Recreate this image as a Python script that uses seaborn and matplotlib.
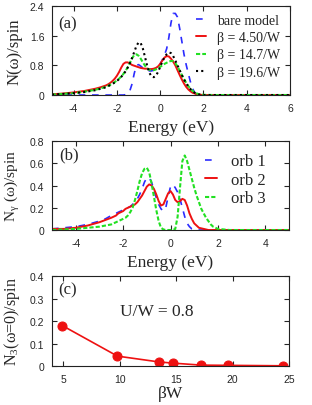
import numpy as np
import matplotlib
matplotlib.use("Agg")
import matplotlib.pyplot as plt
import seaborn as sns

# energy grid shared by panels (a) and (b)
energy = [-5.0, -4.5, -4.0, -3.5, -3.0, -2.75,
          -2.5, -2.4, -2.3, -2.2, -2.1, -2.0, -1.9, -1.8, -1.7, -1.6,
          -1.5, -1.4, -1.3, -1.2, -1.1, -1.0, -0.9, -0.8, -0.7, -0.6,
          -0.5, -0.4, -0.3, -0.2, -0.1, 0.0, 0.1, 0.2, 0.3, 0.4,
          0.5, 0.6, 0.7, 0.8, 0.9, 1.0, 1.1, 1.2, 1.3, 1.4,
          1.5, 1.6, 1.7, 1.8, 1.9, 2.0,
          2.5, 3.0, 4.0, 5.0, 6.0]

# panel (a): total DOS
dos_bare = [0, 0, 0, 0, 0, 0,
            0, 0, 0, 0, 0, 0, 0, 0, 0, 0.01,
            0.04, 0.12, 0.30, 0.58, 0.80, 0.82, 0.78, 0.73, 0.69, 0.66,
            0.65, 0.65, 0.67, 0.70, 0.76, 0.84, 0.95, 1.08, 1.25, 1.55,
            1.95, 2.20, 2.20, 2.10, 1.80, 1.45, 1.10, 0.82, 0.58, 0.35,
            0.17, 0.06, 0.01, 0, 0, 0,
            0, 0, 0, 0, 0]
dos_b450 = [0.02, 0.04, 0.07, 0.11, 0.17, 0.21,
            0.26, 0.29, 0.33, 0.38, 0.44, 0.52, 0.62, 0.74, 0.84, 0.88,
            0.88, 0.85, 0.81, 0.79, 0.77, 0.75, 0.73, 0.72, 0.71, 0.71,
            0.70, 0.70, 0.71, 0.73, 0.77, 0.84, 0.93, 1.01, 1.05, 1.04,
            0.98, 0.90, 0.80, 0.67, 0.54, 0.42, 0.31, 0.22, 0.15, 0.10,
            0.06, 0.04, 0.02, 0.01, 0.005, 0,
            0, 0, 0, 0, 0]
dos_b147 = [0.01, 0.03, 0.05, 0.09, 0.14, 0.18,
            0.22, 0.25, 0.28, 0.31, 0.35, 0.39, 0.44, 0.50, 0.57, 0.65,
            0.75, 0.87, 0.99, 1.08, 1.10, 1.06, 0.98, 0.88, 0.79, 0.72,
            0.68, 0.67, 0.67, 0.69, 0.72, 0.76, 0.80, 0.84, 0.87, 0.90,
            0.92, 0.91, 0.86, 0.77, 0.66, 0.54, 0.43, 0.33, 0.24, 0.17,
            0.11, 0.07, 0.04, 0.02, 0.01, 0.005,
            0, 0, 0, 0, 0]
dos_b196 = [0.01, 0.03, 0.05, 0.08, 0.13, 0.17,
            0.21, 0.24, 0.27, 0.30, 0.34, 0.38, 0.43, 0.49, 0.56, 0.64,
            0.74, 0.86, 1.00, 1.16, 1.32, 1.42, 1.40, 1.25, 1.02, 0.78,
            0.60, 0.50, 0.48, 0.52, 0.62, 0.76, 0.90, 1.02, 1.10, 1.15,
            1.13, 1.05, 0.93, 0.80, 0.67, 0.54, 0.42, 0.32, 0.23, 0.16,
            0.10, 0.06, 0.03, 0.015, 0.005, 0,
            0, 0, 0, 0, 0]

# panel (b): orbital-resolved DOS
orb1 = [0.01, 0.02, 0.03, 0.05, 0.08, 0.10,
        0.13, 0.14, 0.15, 0.16, 0.17, 0.18, 0.19, 0.20, 0.21, 0.23,
        0.25, 0.28, 0.32, 0.37, 0.43, 0.47, 0.47, 0.43, 0.36, 0.29,
        0.23, 0.19, 0.17, 0.20, 0.30, 0.39, 0.41, 0.38, 0.34, 0.28,
        0.20, 0.12, 0.06, 0.03, 0.01, 0.005, 0, 0, 0, 0,
        0, 0, 0, 0, 0, 0,
        0, 0, 0, 0, 0]
orb2 = [0.01, 0.01, 0.02, 0.04, 0.07, 0.09,
        0.11, 0.12, 0.13, 0.15, 0.16, 0.17, 0.19, 0.20, 0.21, 0.22,
        0.23, 0.25, 0.28, 0.31, 0.35, 0.39, 0.41, 0.40, 0.37, 0.32,
        0.26, 0.22, 0.23, 0.28, 0.33, 0.35, 0.32, 0.27, 0.25, 0.26,
        0.28, 0.27, 0.22, 0.15, 0.10, 0.06, 0.04, 0.02, 0.015, 0.01,
        0.005, 0, 0, 0, 0, 0,
        0, 0, 0, 0, 0]
orb3 = [0.0, 0.005, 0.01, 0.02, 0.03, 0.04,
        0.05, 0.06, 0.07, 0.08, 0.09, 0.10, 0.11, 0.13, 0.16, 0.20,
        0.27, 0.35, 0.44, 0.51, 0.55, 0.56, 0.52, 0.42, 0.30, 0.18,
        0.08, 0.02, 0.005, 0, 0, 0, 0, 0.01, 0.12, 0.38,
        0.62, 0.67, 0.62, 0.54, 0.46, 0.38, 0.31, 0.25, 0.19, 0.15,
        0.11, 0.08, 0.05, 0.03, 0.02, 0.01,
        0, 0, 0, 0, 0]

# panel (c)
beta_w = [4.9, 9.8, 13.5, 14.7, 17.2, 19.6, 24.5]
n3_zero = [0.18, 0.044, 0.018, 0.013, 0.004, 0.003, 0.001]

sns.set_style("ticks")
plt.rcParams["font.family"] = ["Liberation Serif", "DejaVu Serif"]
plt.rcParams["mathtext.default"] = "regular"
plt.rcParams["axes.unicode_minus"] = False

BLUE = "#2b2bff"
RED = "#ee1111"
GREEN = "#22e022"
tick_font = {"family": "Liberation Sans", "size": 7.5}

fig = plt.figure(figsize=(3.12, 4.06), dpi=100)
ax_a = fig.add_axes([0.1667, 0.7635, 0.7628, 0.2192])
ax_b = fig.add_axes([0.1667, 0.4310, 0.7596, 0.2192])
ax_c = fig.add_axes([0.1667, 0.0960, 0.7596, 0.2217])

# (a)
sns.lineplot(x=energy, y=dos_bare, ax=ax_a, color=BLUE, lw=1.2,
             linestyle=(0, (4, 4)), label="bare model")
sns.lineplot(x=energy, y=dos_b450, ax=ax_a, color=RED, lw=1.4,
             label="β = 4.50/W")
sns.lineplot(x=energy, y=dos_b147, ax=ax_a, color=GREEN, lw=1.5,
             linestyle=(0, (2, 1)), label="β = 14.7/W")
sns.lineplot(x=energy, y=dos_b196, ax=ax_a, color="black", lw=1.5,
             linestyle=(0, (1, 1.5)), label="β = 19.6/W")
ax_a.set_xlim(-5, 6)
ax_a.set_ylim(0, 2.4)
ax_a.set_xticks([-4, -2, 0, 2, 4, 6])
ax_a.set_yticks([0, 0.8, 1.6, 2.4])
ax_a.set_yticklabels(["0", "0.8", "1.6", "2.4"])
ax_a.set_xlabel("Energy (eV)", fontsize=12.5)
ax_a.set_ylabel("N(ω)/spin", fontsize=12)
ax_a.text(0.025, 0.81, "(a)", transform=ax_a.transAxes, fontsize=12,
          va="center")
ax_a.legend(loc="upper right", bbox_to_anchor=(0.96, 0.91), frameon=False,
            fontsize=10, handlelength=0.75, handletextpad=0.8,
            labelspacing=0.3, borderpad=0, borderaxespad=0)

# (b)
sns.lineplot(x=energy, y=orb1, ax=ax_b, color=BLUE, lw=1.2,
             linestyle=(0, (4, 4)), label="orb 1")
sns.lineplot(x=energy, y=orb2, ax=ax_b, color=RED, lw=1.4, label="orb 2")
sns.lineplot(x=energy, y=orb3, ax=ax_b, color=GREEN, lw=1.5,
             linestyle=(0, (2, 1)), label="orb 3")
ax_b.set_xlim(-5, 5)
ax_b.set_ylim(0, 0.8)
ax_b.set_xticks([-4, -2, 0, 2, 4])
ax_b.set_yticks([0, 0.2, 0.4, 0.6, 0.8])
ax_b.set_yticklabels(["0", "0.2", "0.4", "0.6", "0.8"])
ax_b.set_xlabel("Energy (eV)", fontsize=12.5)
ax_b.set_ylabel("N$_γ$ (ω)/spin", fontsize=11)
ax_b.text(0.03, 0.85, "(b)", transform=ax_b.transAxes, fontsize=12,
          va="center")
ax_b.legend(loc="upper right", bbox_to_anchor=(0.90, 0.86), frameon=False,
            fontsize=12, handlelength=0.75, handletextpad=0.8,
            labelspacing=0.15, borderpad=0, borderaxespad=0)

# (c)
sns.lineplot(x=beta_w, y=n3_zero, ax=ax_c, color=RED, lw=1.2, marker="o",
             markersize=6.5, markeredgecolor=RED)
ax_c.set_xlim(4, 25)
ax_c.set_ylim(0, 0.4)
ax_c.set_xticks([5, 10, 15, 20, 25])
ax_c.set_yticks([0, 0.1, 0.2, 0.3, 0.4])
ax_c.set_yticklabels(["0", "0.1", "0.2", "0.3", "0.4"])
ax_c.set_xlabel("βW", fontsize=12.5)
ax_c.set_ylabel("N$_3$(ω=0)/spin", fontsize=11.5)
ax_c.text(0.025, 0.855, "(c)", transform=ax_c.transAxes, fontsize=12,
          va="center")
ax_c.text(10.0, 0.245, "U/W = 0.8", fontsize=12.5, va="center")

for ax, xl in [(ax_a, -0.27), (ax_b, -0.27), (ax_c, -0.21)]:
    ax.tick_params(direction="in", top=True, right=True, length=3.5,
                   width=0.8, pad=5.5)
    for lab in ax.get_xticklabels() + ax.get_yticklabels():
        lab.set_fontproperties(tick_font)
    for sp in ax.spines.values():
        sp.set_linewidth(0.8)
        sp.set_color("#222222")
    ax.xaxis.set_label_coords(0.5, xl)
    ax.yaxis.set_label_coords(-0.125, 0.5)

fig.savefig("out.png", dpi=100)
